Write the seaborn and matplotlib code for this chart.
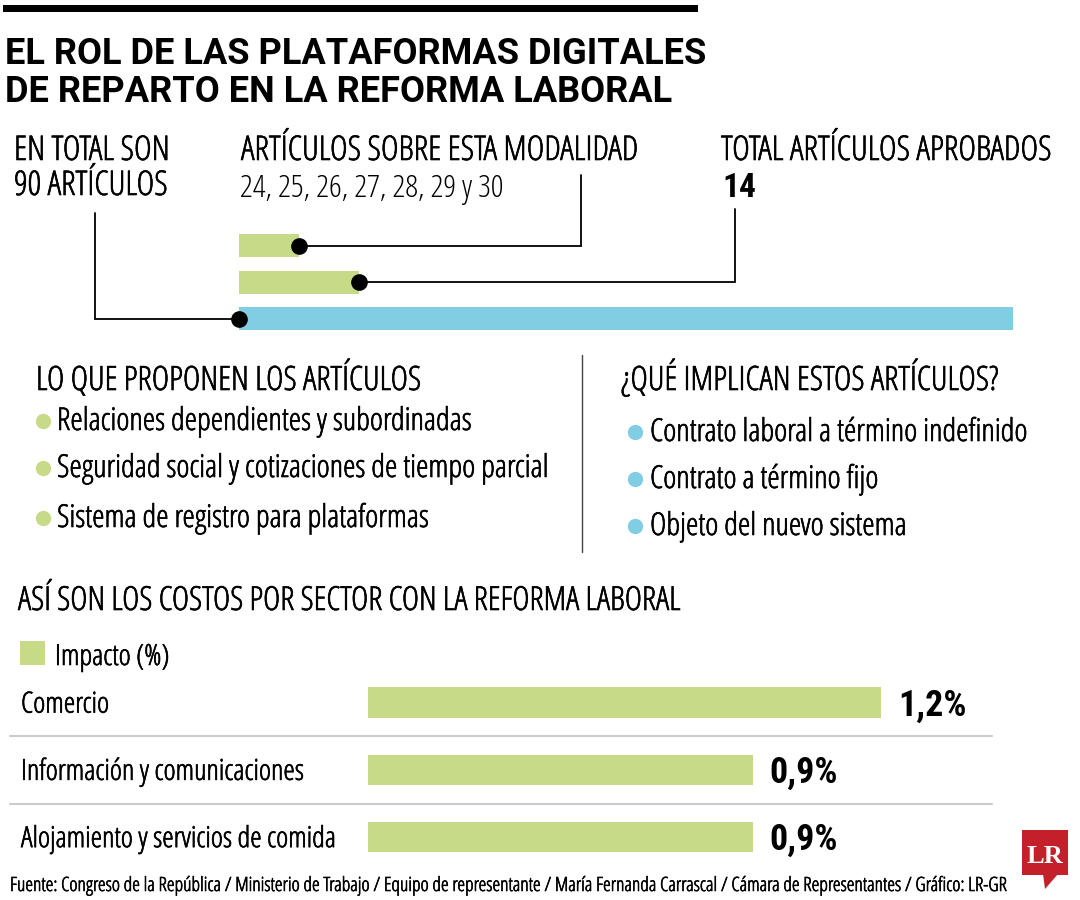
import numpy as np
import pandas as pd
import matplotlib
matplotlib.use("Agg")
import matplotlib.pyplot as plt
import matplotlib.font_manager as fm
import matplotlib.patheffects as pe
from matplotlib.textpath import TextPath
from matplotlib.patches import Rectangle, Polygon
import seaborn as sns

# ---- data ----
art_groups = ["Artículos sobre esta modalidad", "Total artículos aprobados", "En total"]
art_counts = [7, 14, 90]
propuestas = ["Relaciones dependientes y subordinadas",
              "Seguridad social y cotizaciones de tiempo parcial",
              "Sistema de registro para plataformas"]
implicaciones = ["Contrato laboral a término indefinido",
                 "Contrato a término fijo",
                 "Objeto del nuevo sistema"]
sectores = ["Comercio", "Información y comunicaciones", "Alojamiento y servicios de comida"]
impacto = [1.2, 0.9, 0.9]

GREEN = "#c6da88"
BLUE = "#80cde4"
RED = "#c4202a"

sns.set_style("white")

# ---- pick a narrow sans that looks like the condensed newspaper face ----
BASES = ["Noto Sans", "Roboto", "Open Sans", "Liberation Sans", "DejaVu Sans", "Lato", "Inter"]
WIDTHS = ["", "Narrow", "Condensed", "SemiCondensed", "ExtraCondensed",
          "Semi Condensed", "Extra Condensed", "Cond"]
WEIGHT_WORDS = ["ExtraLight", "Extralight", "SemiBold", "Semibold", "ExtraBold", "Extrabold",
                "Light", "Medium", "Bold", "Black", "Thin", "Regular"]


def ok_name(n):
    for b in BASES:
        if n.startswith(b):
            rest = n[len(b):]
            for w in WEIGHT_WORDS:
                rest = rest.replace(w, "")
            return rest.strip() in WIDTHS
    return False


def as_weight(w):
    if isinstance(w, (int, float)):
        return int(w)
    return fm.weight_dict.get(w, 400)


def ink_width(prop, s):
    return TextPath((0, 0), s, size=100, prop=prop).get_extents().width


def pick(sample, ratio, weight, wpen=0.15):
    best, best_score, best_w = None, 1e9, 400
    seen = set()
    for f in fm.fontManager.ttflist:
        if f.fname in seen or f.style != "normal" or not ok_name(f.name):
            continue
        seen.add(f.fname)
        try:
            p = fm.FontProperties(fname=f.fname)
            cap = TextPath((0, 0), "H", size=100, prop=p).get_extents().height
            r = ink_width(p, sample) / cap
        except Exception:
            continue
        w = as_weight(f.weight)
        score = abs(np.log(r / ratio)) + wpen * abs(w - weight) / 100
        if score < best_score:
            best, best_score, best_w = p, score, w
    return (best or fm.FontProperties(family="DejaVu Sans")), best_w


F_REG, REG_W = pick("EN TOTAL SON", 148 / 22, 400, wpen=0.03)
F_BOLD, _ = pick("EL ROL DE LAS PLATAFORMAS DIGITALES", 700 / 27, 700)
F_NUM, _ = pick("1,2%", 64 / 26, 700)
F_LIGHT, _ = pick("EN TOTAL SON", 148 / 22, 300)
# a light cut gets a hairline stroke so it reads as regular weight
REG_FX = [pe.withStroke(linewidth=0.45, foreground="black")] if REG_W < 400 else None


def fit(prop, s, width_px):
    return width_px * 72 / ink_width(prop, s)


# ---- figure: one overlay axes in pixel units ----
fig = plt.figure(figsize=(10.8, 9), dpi=100)
ax_o = fig.add_axes([0, 0, 1, 1])
ax_o.set_xlim(0, 1080)
ax_o.set_ylim(900, 0)
ax_o.axis("off")
ax_o.set_zorder(5)


def axes_px(left, top, width, height):
    return fig.add_axes([left / 1080, 1 - (top + height) / 900, width / 1080, height / 900])


def to_px(ax, x, y):
    d = ax.transData.transform((x, y))
    return ax_o.transData.inverted().transform(d)


def put(x, y, s, prop, size, **kw):
    p = prop.copy()
    p.set_size(size)
    kw.setdefault("va", "baseline")
    kw.setdefault("ha", "left")
    if prop is F_REG and REG_FX:
        kw.setdefault("path_effects", REG_FX)
    ax_o.text(x, y, s, fontproperties=p, color=kw.pop("color", "black"), **kw)


# title
ax_o.add_patch(Rectangle((3, 5), 695, 7, color="black", lw=0))
t_size = fit(F_BOLD, "EL ROL DE LAS PLATAFORMAS DIGITALES", 700)
put(5, 64, "EL ROL DE LAS PLATAFORMAS DIGITALES", F_BOLD, t_size)
put(5, 102, "DE REPARTO EN LA REFORMA LABORAL", F_BOLD, t_size)

# headers over the article bars
h_size = (fit(F_REG, "ARTÍCULOS SOBRE ESTA MODALIDAD", 393) + fit(F_REG, "TOTAL ARTÍCULOS APROBADOS", 331)) / 2
put(14, 160, "EN TOTAL SON", F_REG, h_size)
put(14, 195, "90 ARTÍCULOS", F_REG, h_size)
put(241, 160, "ARTÍCULOS SOBRE ESTA MODALIDAD", F_REG, h_size)
put(240, 197, "24, 25, 26, 27, 28, 29 y 30", F_LIGHT, fit(F_LIGHT, "24, 25, 26, 27, 28, 29 y 30", 261))
put(721, 160, "TOTAL ARTÍCULOS APROBADOS", F_REG, h_size)
put(722, 197, "14", F_NUM, fit(F_NUM, "14", 30))

# article bars
ax_top = axes_px(239, 227.5, 774, 109.5)
df_art = pd.DataFrame({"grupo": art_groups, "articulos": art_counts})
sns.barplot(data=df_art, x="articulos", y="grupo", hue="grupo", palette=[GREEN, GREEN, BLUE],
            width=0.64, saturation=1, linewidth=0, legend=False, ax=ax_top)
ax_top.set_xlim(0, 90)
ax_top.set_ylim(2.5, -0.5)
ax_top.axis("off")

# connectors from each bar to its header
dot_at_end = [True, True, False]
elbows = [(581, 175), (735, 209), (95, 213)]
for i, v in enumerate(art_counts):
    px, py = to_px(ax_top, v if dot_at_end[i] else 0, i)
    ex, ey = elbows[i]
    ax_o.plot([px, ex, ex], [py, py, ey], color="black", lw=1.3, solid_joinstyle="miter")
    ax_o.plot(px, py, "o", color="black", ms=11)

# two columns of bullets
sub_size = (fit(F_REG, "LO QUE PROPONEN LOS ARTÍCULOS", 375) + fit(F_REG, "¿QUÉ IMPLICAN ESTOS ARTÍCULOS?", 382)) / 2
put(36, 390, "LO QUE PROPONEN LOS ARTÍCULOS", F_REG, sub_size)
put(621, 390, "¿QUÉ IMPLICAN ESTOS ARTÍCULOS?", F_REG, sub_size)
b_size = fit(F_REG, propuestas[1], 488)
for s, yb in zip(propuestas, [430, 477, 527]):
    ax_o.plot(43, yb - 9, "o", color=GREEN, ms=10)
    put(57, yb, s, F_REG, b_size)
for s, yb in zip(implicaciones, [441, 488, 535]):
    ax_o.plot(635, yb - 9, "o", color=BLUE, ms=10)
    put(650, yb, s, F_REG, b_size)
ax_o.plot([582, 582], [355, 552], color="#444444", lw=1)

# costs by sector
put(18, 610, "ASÍ SON LOS COSTOS POR SECTOR CON LA REFORMA LABORAL", F_REG,
    fit(F_REG, "ASÍ SON LOS COSTOS POR SECTOR CON LA REFORMA LABORAL", 662))
ax_o.add_patch(Rectangle((20, 641), 25, 24, color=GREEN, lw=0))
c_size = fit(F_REG, sectores[2], 313)
put(55, 665, "Impacto (%)", F_REG, c_size)

ax_cost = axes_px(368, 669, 641.25, 201.75)
df_cost = pd.DataFrame({"sector": sectores, "impacto": impacto})
sns.barplot(data=df_cost, x="impacto", y="sector", color=GREEN, width=0.45,
            saturation=1, linewidth=0, ax=ax_cost)
ax_cost.set_xlim(0, 1.5)
ax_cost.set_ylim(2.5, -0.5)
ax_cost.axis("off")

v_size = fit(F_NUM, "1,2%", 64)
for i, (s, v) in enumerate(zip(sectores, impacto)):
    _, cy = to_px(ax_cost, 0, i)
    put(21, cy + 10, s, F_REG, c_size)
    vx, _ = to_px(ax_cost, v, i)
    put(vx + 17, cy + 13, f"{v:.1f}%".replace(".", ","), F_NUM, v_size)
for i in range(len(sectores) - 1):
    _, sy = to_px(ax_cost, 0, i + 0.5)
    ax_o.plot([10, 992], [sy, sy], color="#cccccc", lw=1.5)

# footer and logo
foot = ("Fuente: Congreso de la República / Ministerio de Trabajo / Equipo de representante / "
        "María Fernanda Carrascal / Cámara de Representantes / Gráfico: LR-GR")
put(10, 891, foot, F_REG, fit(F_REG, foot, 995))
ax_o.add_patch(Rectangle((1022, 830), 46, 45, color=RED, lw=0))
ax_o.add_patch(Polygon([(1043, 874), (1058, 874), (1045, 889)], color=RED, lw=0))
lr = fm.FontProperties(family=["Liberation Serif", "DejaVu Serif"], weight="bold")
put(1045, 863, "LR", lr, 19, ha="center", color="white")

fig.savefig("out.png", dpi=100)
